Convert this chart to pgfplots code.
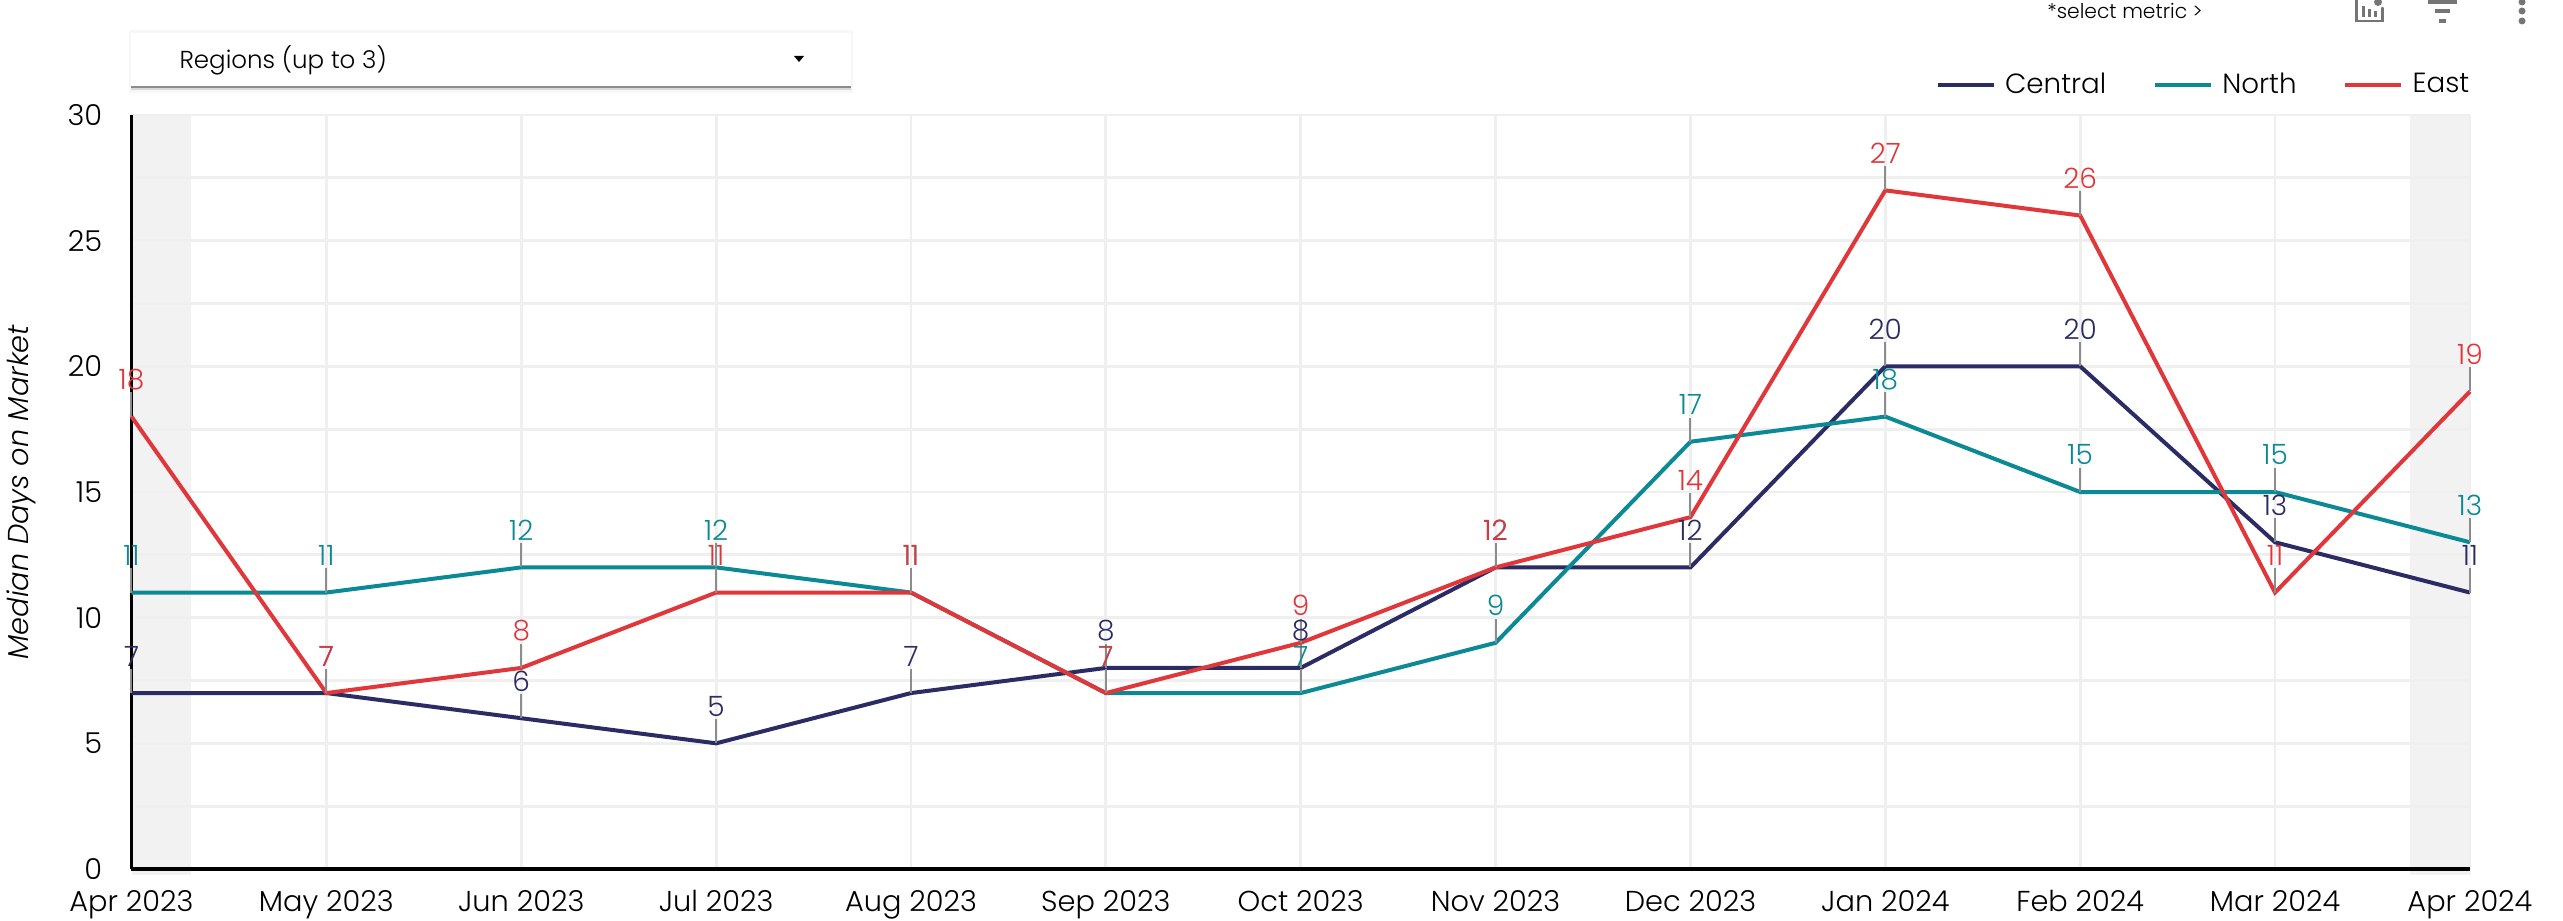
\documentclass[border=0pt]{standalone}
\usepackage{pgfplots}
\pgfplotsset{compat=1.18}
\usepackage{fontspec}
\setmainfont{Poppins Light}
\definecolor{cnavy}{HTML}{2B2C63}
\definecolor{cteal}{HTML}{0B8A96}
\definecolor{cred}{HTML}{E0373B}
\definecolor{cgrid}{HTML}{EFEFEF}
\definecolor{cband}{HTML}{F2F2F2}
\definecolor{cicon}{HTML}{757575}
\pgfplotsset{
  series/.style={
    color=#1, line width=1.5pt, no markers,
    error bars/.cd, y dir=plus, y fixed=0.96,
    error mark=none,
    error bar style={color=black!45, line width=0.75pt},
    /pgfplots/.cd,
    nodes near coords,
    point meta=explicit symbolic,
    every node near coord/.style={anchor=center, yshift=13.9pt, color=#1, font=\fontsize{10.5}{12}\selectfont, inner sep=0pt}
  }
}
\begin{document}
\begin{tikzpicture}
\begin{scope}[x=0.375pt,y=-0.375pt]
\useasboundingbox (0,0) rectangle (2563,921);
% dropdown
\fill[black!3] (129,30) rectangle (853,93);
\fill[black!15] (131,84) rectangle (851,90);
\fill[black!45] (131,85) rectangle (851,88);
\fill[white] (131,33) rectangle (851,86);
\node[anchor=west,inner sep=0pt,font=\fontsize{9.2}{11}\selectfont] at (179,60) {Regions (up to 3)};
\fill[black] (794,56) -- (804,56) -- (799,62) -- cycle;
% top right controls
\node[anchor=center,inner sep=0pt,font=\fontsize{7.6}{9}\selectfont] at (2125,11) {*select metric >};
\draw[cicon,line width=1.1pt,line cap=round] (2356,0) -- (2356,21) -- (2382,21) -- (2382,8);
\draw[cicon,line width=1.1pt] (2363,6) -- (2363,17) (2369,9) -- (2369,17) (2375,11) -- (2375,17);
\fill[cicon] (2378,2) circle (4);
\draw[cicon,line width=1.3pt] (2428,2) -- (2457,2) (2435,11) -- (2450,11) (2439,21) -- (2446,21);
\fill[cicon] (2522,2) circle (3.5) (2522,11) circle (3.5) (2522,21) circle (3.5);
% shaded margins, behind the grid
\fill[cband] (132,115) rectangle (191,875);
\fill[cband] (2410,115) rectangle (2471,875);
\end{scope}
\begin{axis}[
  at={(49.3125pt,-325.875pt)}, anchor=south west,
  scale only axis, width=876.9pt, height=282.75pt,
  xmin=0, xmax=12, ymin=0, ymax=30,
  clip=false,
  axis x line=bottom, axis y line=left,
  axis line style={black,line width=1.15pt,-},
  xtick={0,...,12},
  xticklabels={Apr 2023,May 2023,Jun 2023,Jul 2023,Aug 2023,Sep 2023,Oct 2023,Nov 2023,Dec 2023,Jan 2024,Feb 2024,Mar 2024,Apr 2024},
  ytick={0,5,10,15,20,25,30},
  minor ytick={2.5,7.5,12.5,17.5,22.5,27.5},
  grid=both,
  major grid style={cgrid,line width=1.05pt},
  minor grid style={cgrid,line width=1.05pt},
  tick style={draw=none}, minor tick length=0pt, major tick length=0pt,
  /pgf/number format/assume math mode=true,
  ticklabel style={font=\fontsize{10.8}{12}\selectfont},
  xticklabel style={inner sep=0pt, anchor=base, yshift=-16.1pt},
  yticklabel style={xshift=-10.8pt, yshift=0pt, inner sep=0pt},
  ylabel={\textit{Median Days on Market}},
  ylabel style={font=\fontsize{10.8}{12}\selectfont, at={(axis description cs:-0.0470,0.5)}, anchor=center, inner sep=0pt},
  legend columns=3,
  legend style={draw=none, fill=none, at={(axis description cs:1.002,1.0397)}, anchor=east, inner sep=0pt, outer sep=0pt,
    font=\fontsize{10.4}{12}\selectfont,
    /tikz/every even column/.append style={column sep=15.5pt},
    /tikz/every odd column/.append style={column sep=1.5pt}},
  legend cell align=left,
  legend image code/.code={\draw[#1,line width=1.5pt] (0,0) -- (21pt,0);},
]
\addplot[series=cnavy] table[x=x,y=y,meta=y] {
x y
0 7
1 7
2 6
3 5
4 7
5 8
6 8
7 12
8 12
9 20
10 20
11 13
12 11
};
\addlegendentry{Central}
\addplot[series=cteal] table[x=x,y=y,meta=y] {
x y
0 11
1 11
2 12
3 12
4 11
5 7
6 7
7 9
8 17
9 18
10 15
11 15
12 13
};
\addlegendentry{North}
\addplot[series=cred] table[x=x,y=y,meta=y] {
x y
0 18
1 7
2 8
3 11
4 11
5 7
6 9
7 12
8 14
9 27
10 26
11 11
12 19
};
\addlegendentry{East}
\end{axis}
\end{tikzpicture}
\end{document}
